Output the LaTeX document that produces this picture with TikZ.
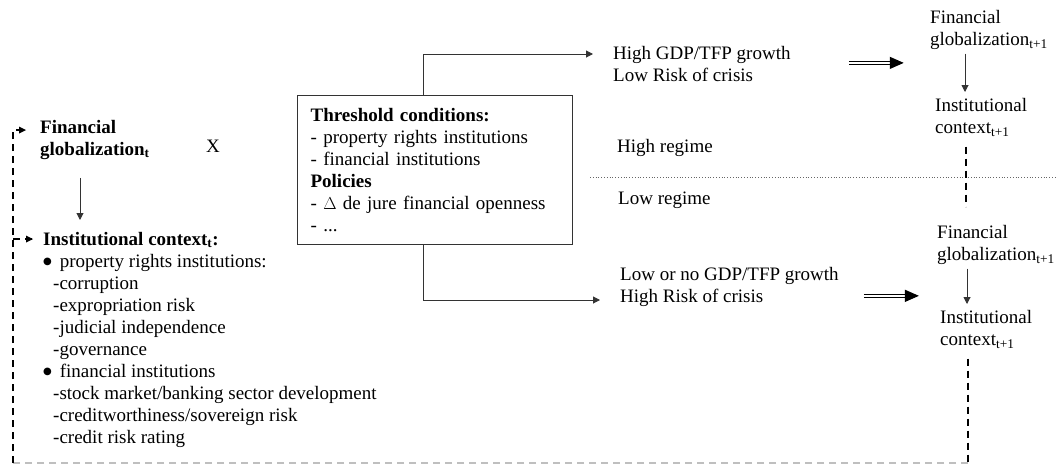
\documentclass[tikz,border=0pt]{standalone}
\usepackage{fontspec}
\setmainfont{Liberation Serif}
\newfontfamily\symfont{DejaVu Sans}
\newcommand{\dotitem}{\raisebox{3pt}{\symfont\fontsize{10}{10}\selectfont ●}\ \,}
\usetikzlibrary{arrows.meta,positioning}

\begin{document}
\begin{tikzpicture}[
	x=1pt, y=-1pt,
	>={Triangle[length=7pt,width=7pt]},
	every node/.style={font=\fontsize{19}{22}\selectfont},
	txt/.style={
		anchor=north west,
		align=left,
		inner sep=0pt
		},
	boldtxt/.style={
		txt,
		font=\fontsize{19}{22}\selectfont\bfseries
		},
	cond/.style={
		txt,
		draw=black!80,
		line width=1.2pt,
		text width=249pt,
		minimum height=149pt,
		inner xsep=13pt
		},
	link/.style={->, line width=1pt, draw=black!80},
	feedback/.style={line width=2pt, dash pattern=on 7pt off 5pt},
	dblarrow/.style={
		double, double distance=1.8pt, line width=1.2pt,
		-{Triangle[length=14pt,width=12pt]}
		}
]
\useasboundingbox (0,0) rectangle (1057,466);

% Period t
\node [boldtxt] (fg) at (40,120) {Financial\\globalization\textsubscript{t}};
\node [anchor=base, inner sep=0pt] (cross) at (213,152) {X};
\node [boldtxt] (ctx) at (43,232) {Institutional context\textsubscript{t}:};
\node [txt] (ctxlist) at (43,254) {\dotitem property rights institutions:\\
	\hspace*{10pt}-corruption\\
	\hspace*{10pt}-expropriation risk\\
	\hspace*{10pt}-judicial independence\\
	\hspace*{10pt}-governance\\
	\dotitem financial institutions\\
	\hspace*{10pt}-stock market/banking sector development\\
	\hspace*{10pt}-creditworthiness/sovereign risk\\
	\hspace*{10pt}-credit risk rating};

% Threshold
\node [cond] (thr) at (297,95) {\textbf{Threshold conditions:}\\
	- property rights institutions\\
	- financial institutions\\
	\textbf{Policies}\\
	- $\Delta$ de jure financial openness\\
	- ...};

% Regimes
\node [txt] (hg) at (613,46) {High GDP/TFP growth\\Low Risk of crisis};
\node [txt] (lg) at (620,267) {Low or no GDP/TFP growth\\High Risk of crisis};
\node [txt] (hireg) at (617,139) {High regime};
\node [txt] (loreg) at (618,192) {Low regime};
\draw [dotted, line width=0.8pt, black!60] (590,177) -- (1057,177);

% Period t+1
\node [txt] (fgA) at (930,10) {Financial\\globalization\textsubscript{t+1}};
\node [txt] (icA) at (935,98) {Institutional\\context\textsubscript{t+1}};
\node [txt] (fgB) at (937,225) {Financial\\globalization\textsubscript{t+1}};
\node [txt] (icB) at (940,310) {Institutional\\context\textsubscript{t+1}};

% Arrows
\draw [link] ([xshift=40pt,yshift=-18pt]fg.south west) -- ([xshift=37pt,yshift=12pt]ctx.north west);
\draw [link] ([xshift=-11.5pt]thr.north) |- ([xshift=-20pt,yshift=-8pt]hg.north west);
\draw [link] ([xshift=-11.5pt]thr.south) |- ([xshift=-20pt,yshift=-33pt]lg.north west);
\draw [dblarrow] ([xshift=58pt,yshift=1pt]hg.east) -- ++(55,0);
\draw [dblarrow] ([xshift=25pt,yshift=-9pt]lg.east) -- ++(55,0);
\draw [link] ([xshift=35pt,yshift=-4pt]fgA.south west) -- ([xshift=30pt,yshift=6pt]icA.north west);
\draw [link] ([xshift=30pt,yshift=-4pt]fgB.south west) -- ([xshift=27pt,yshift=6pt]icB.north west);

% Feedback loop
\coordinate (bl) at (13,463);
\coordinate (br) at (968,463);
\coordinate (fgin) at (26,130);
\coordinate (ctxin) at (33,239);
\draw [feedback] ([xshift=31pt,yshift=-10pt]icA.south west) -- ++(0,60);
\draw [feedback] ([yshift=-10pt]icB.south -| br) -- (br);
\draw [feedback, gray!50] (br) -- (bl);
\draw [feedback] (bl) -- (bl |- fgin) -- (fgin);
\draw [feedback] (bl |- ctxin) -- (ctxin);
\fill ([xshift=-7pt,yshift=-3.5pt]fgin) -- ([yshift=0pt]fgin) -- ([xshift=-7pt,yshift=3.5pt]fgin) -- cycle;
\fill ([xshift=-7pt,yshift=-3.5pt]ctxin) -- (ctxin) -- ([xshift=-7pt,yshift=3.5pt]ctxin) -- cycle;

\end{tikzpicture}
\end{document}
